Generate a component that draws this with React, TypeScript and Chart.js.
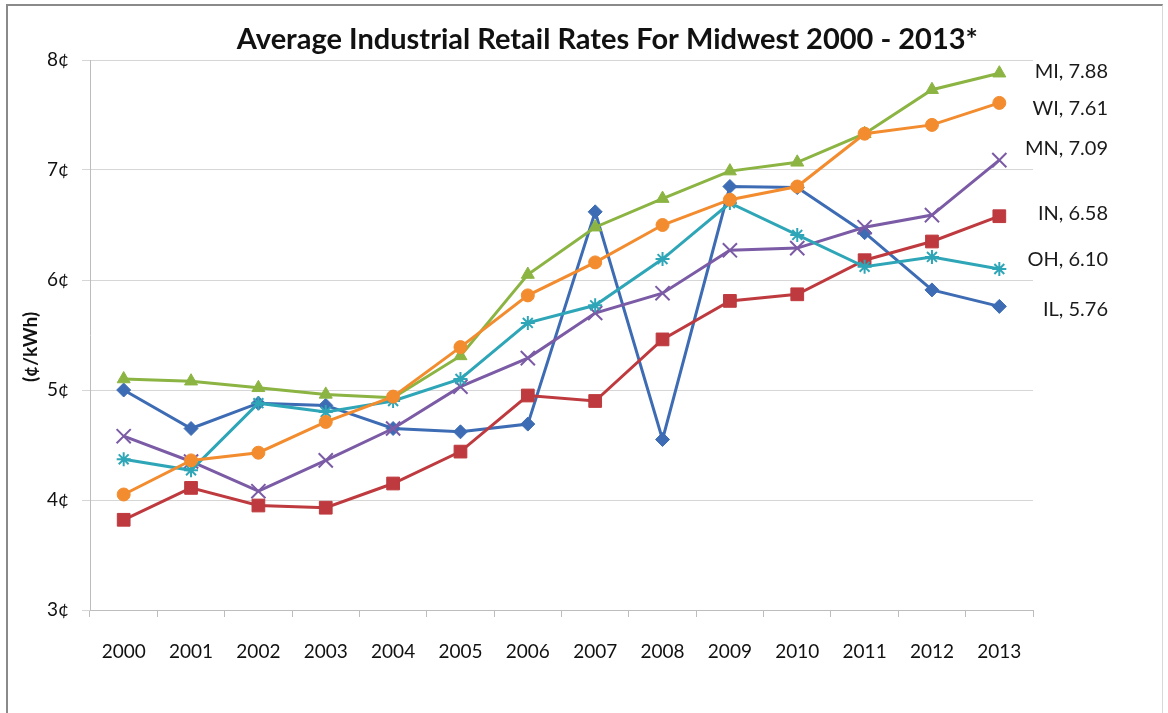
import React, { useEffect, useRef } from "react";
import { Chart, registerables } from "chart.js";

Chart.register(...registerables);

const years = ["2000", "2001", "2002", "2003", "2004", "2005", "2006", "2007", "2008", "2009", "2010", "2011", "2012", "2013"];

const IL = [5.0, 4.65, 4.88, 4.86, 4.65, 4.62, 4.69, 6.62, 4.55, 6.85, 6.84, 6.43, 5.91, 5.76];
const IN = [3.82, 4.11, 3.95, 3.93, 4.15, 4.44, 4.95, 4.9, 5.46, 5.81, 5.87, 6.18, 6.35, 6.58];
const MI = [5.1, 5.08, 5.02, 4.96, 4.93, 5.31, 6.05, 6.48, 6.74, 6.99, 7.07, 7.33, 7.73, 7.88];
const MN = [4.58, 4.35, 4.08, 4.36, 4.65, 5.03, 5.29, 5.7, 5.88, 6.27, 6.29, 6.48, 6.59, 7.09];
const OH = [4.37, 4.27, 4.88, 4.8, 4.9, 5.1, 5.61, 5.77, 6.19, 6.7, 6.41, 6.12, 6.21, 6.1];
const WI = [4.05, 4.36, 4.43, 4.71, 4.94, 5.39, 5.86, 6.16, 6.5, 6.73, 6.85, 7.33, 7.41, 7.61];

const yTicks = [3, 4, 5, 6, 7, 8];

const TITLE = "Average Industrial Retail Rates For Midwest 2000 - 2013*";
const Y_TITLE = "(¢/kWh)";

const series = [
  { code: "IL", values: IL, color: "#3d6cb4", style: "rectRot", radius: 7, nudge: 3 },
  { code: "IN", values: IN, color: "#be3a3e", style: "rect", radius: 9, nudge: -3 },
  { code: "MI", values: MI, color: "#8bb443", style: "triangle", radius: 7.5, nudge: -2 },
  { code: "MN", values: MN, color: "#7b5ba5", style: "crossRot", radius: 10, nudge: -12 },
  { code: "OH", values: OH, color: "#2ea6b7", style: "star", radius: 7, nudge: -9 },
  { code: "WI", values: WI, color: "#f28c2e", style: "circle", radius: 6.5, nudge: 6 },
];

const FONT = "Lato, 'Open Sans', sans-serif";

const textPlugin = {
  id: "textPlugin",
  afterDatasetsDraw(chart: any) {
    const { ctx, chartArea, scales } = chart;
    const y = scales.y;
    ctx.save();
    // end-of-line data labels
    ctx.font = `20px ${FONT}`;
    ctx.fillStyle = "#1a1a1a";
    ctx.textAlign = "right";
    ctx.textBaseline = "middle";
    series.forEach((s) => {
      const v = s.values[s.values.length - 1];
      ctx.fillText(`${s.code}, ${v.toFixed(2)}`, chartArea.right + 75, y.getPixelForValue(v) + s.nudge);
    });
    // chart title
    ctx.font = `bold 29px ${FONT}`;
    ctx.fillStyle = "#111";
    ctx.textAlign = "center";
    ctx.textBaseline = "middle";
    ctx.fillText(TITLE, chart.width * 0.52, 40);
    // y-axis title
    ctx.translate(31, (chartArea.top + chartArea.bottom) / 2 + 12);
    ctx.rotate(-Math.PI / 2);
    ctx.font = `bold 19px ${FONT}`;
    ctx.fillText(Y_TITLE, 0, 0);
    ctx.restore();
  },
};

export default function App() {
  const ref = useRef<HTMLCanvasElement | null>(null);

  useEffect(() => {
    if (!ref.current) return;
    const chart = new Chart(ref.current, {
      type: "line",
      data: {
        labels: years,
        datasets: series.map((s, i) => ({
          label: s.code,
          data: s.values,
          borderColor: s.color,
          backgroundColor: s.color,
          borderWidth: 3,
          pointStyle: s.style as any,
          pointRadius: s.radius,
          pointBorderWidth: s.style === "crossRot" || s.style === "star" ? 2 : 1,
          pointBackgroundColor: s.color,
          pointBorderColor: s.color,
          tension: 0,
          order: series.length - i,
        })),
      },
      options: {
        responsive: false,
        animation: false,
        layout: { padding: { left: 0, right: 135, top: 60, bottom: 0 } },
        plugins: {
          legend: { display: false },
          tooltip: { enabled: false },
          title: { display: false },
        },
        scales: {
          x: {
            offset: true,
            grid: {
              offset: true,
              drawOnChartArea: false,
              drawTicks: true,
              tickLength: 7,
              color: "#bdbdbd",
            },
            border: { color: "#bdbdbd", width: 1 },
            ticks: {
              color: "#111",
              font: { family: FONT, size: 19 },
              padding: 23,
              maxRotation: 0,
              autoSkip: false,
            },
            afterFit: (scale: any) => {
              scale.height = 103;
            },
          },
          y: {
            min: 3,
            max: 8,
            afterBuildTicks: (scale: any) => {
              scale.ticks = yTicks.map((v) => ({ value: v }));
            },
            grid: { color: "#d6d6d6", tickLength: 8, lineWidth: 1 },
            border: { color: "#bdbdbd", width: 1 },
            ticks: {
              color: "#111",
              font: { family: FONT, size: 19 },
              padding: 13,
              callback: (v: any) => `${v}¢`,
            },
            afterFit: (scale: any) => {
              scale.width = 90;
            },
          },
        },
      },
      plugins: [textPlugin],
    });
    return () => chart.destroy();
  }, []);

  return (
    <div style={{ position: "fixed", left: 0, top: 0, width: 1168, height: 713, background: "#fff", overflow: "hidden" }}>
      <div
        style={{
          position: "absolute",
          left: 6,
          top: 4,
          width: 1154,
          height: 740,
          borderTop: "2px solid #8a8a8a",
          borderLeft: "2px solid #8a8a8a",
          borderRight: "1px solid #d8d8d8",
        }}
      />
      <canvas ref={ref} width={1168} height={713} style={{ position: "absolute", left: 0, top: 0 }} />
    </div>
  );
}
